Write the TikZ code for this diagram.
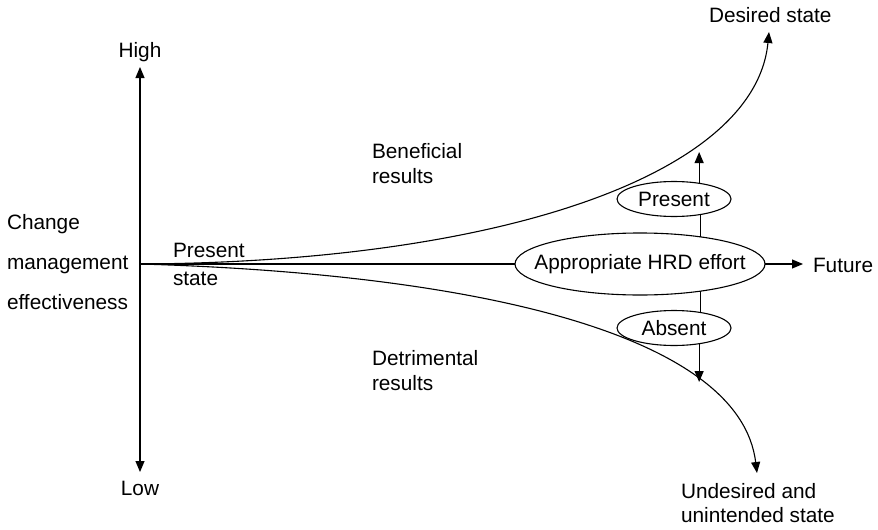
\documentclass[tikz,border=0pt]{standalone}
\usepackage{fontspec}
\setmainfont{Liberation Sans}
\usetikzlibrary{arrows.meta,shapes.geometric}

\tikzset{
  every picture/.style={line width=1.1pt},
  tip/.style={-{Triangle[length=11pt,width=9pt]}},
  lbl/.style={inner sep=0pt, outer sep=0pt, align=left,
    font=\fontsize{20.8}{#1}\selectfont},
  lbl/.default=25,
  oval/.style={ellipse, draw, fill=white, inner sep=0pt, outer sep=0pt,
    font=\fontsize{20.8}{25}\selectfont},
}

\begin{document}
\begin{tikzpicture}[x=1pt, y=-1pt]
  \useasboundingbox (0,0) rectangle (878,530);

  % axis and reference points
  \coordinate (o) at (140,264);
  \coordinate (axtop) at (140,67);
  \coordinate (axbot) at (140,472);
  \coordinate (upend) at (769,32);
  \coordinate (downend) at (757,473);
  \coordinate (uptip) at (699,152);
  \coordinate (downtip) at (699,382);

  % labels (multi-line labels are placed by the baseline of their last line)
  \node[lbl, anchor=base] (high) at (140,57) {High};
  \node[lbl, anchor=base] (low) at (140,495) {Low};
  \node[lbl=40, anchor=base west] (cme) at (7,309) {Change\\management\\effectiveness};
  \node[lbl=28, anchor=base west] (pst) at (173,285) {Present\\state};
  \node[lbl, anchor=base west] (ben) at (372,183) {Beneficial\\results};
  \node[lbl, anchor=base west] (det) at (372,390) {Detrimental\\results};
  \node[lbl, anchor=base west] (des) at (709,23) {Desired state};
  \node[lbl=24, anchor=base west] (und) at (681,522) {Undesired and\\unintended state};
  \node[lbl, anchor=base west, inner xsep=10pt] (fut) at (803,272) {Future};

  % ovals (text boxed at zero width so the minimum sizes set the outline)
  \node[oval, minimum width=250pt, minimum height=62pt] (hrd) at (640,264)
    {\makebox[0pt]{Appropriate HRD effort}};
  \node[oval, minimum width=114pt, minimum height=35pt] (pres) at (674,199)
    {\makebox[0pt]{Present}};
  \node[oval, minimum width=114pt, minimum height=35pt] (abs) at (674,328)
    {\makebox[0pt]{Absent}};

  % vertical axis
  \draw[tip] (o) -- (axtop);
  \draw[tip] (o) -- (axbot);

  % present state towards the HRD effort and the future
  \draw (o) -- (hrd.west);
  \draw[tip] (hrd.east) -- (hrd.east -| fut.west);

  % diverging trajectories
  \draw[tip] (o) .. controls (500,262) and (755,175) .. (upend);
  \draw[tip] (o) .. controls (480,274) and (740,335) .. (downend);

  % effort present / absent
  \draw (hrd.24.86) -- (hrd.24.86 |- pres.-32.5);
  \draw[tip] (pres.32.5) -- (pres.32.5 |- uptip);
  \draw (hrd.-24.86) -- (hrd.-24.86 |- abs.32.5);
  \draw[tip] (abs.-32.5) -- (abs.-32.5 |- downtip);
\end{tikzpicture}
\end{document}
